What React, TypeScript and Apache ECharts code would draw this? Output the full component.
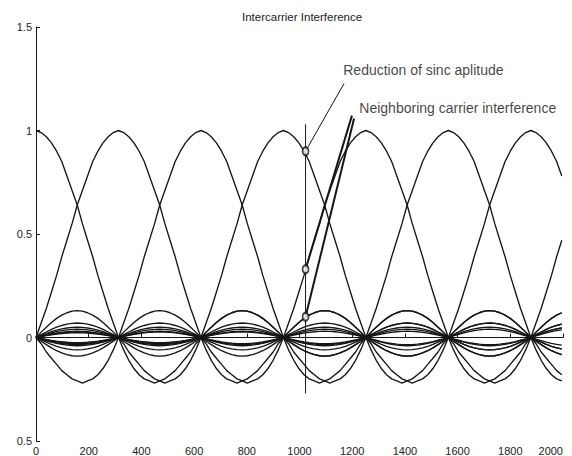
import React, { useEffect, useRef } from "react";
import * as echarts from "echarts";

// Subcarrier spacing (samples) and the centres of the carriers
const carrierSpacing = 313;
const stepsPerSpacing = 16;
const carrierCenters = [
  0, 313, 626, 939, 1252, 1565, 1878, 2191, 2504, 2817, 3130, 3443, 3756, 4069, 4382, 4695,
];

// Sinc pulse, sampled every 1/16 of the carrier spacing
const mainLobe = [1, 0.99, 0.97, 0.94, 0.9, 0.85, 0.78, 0.71, 0.64, 0.55, 0.47, 0.39, 0.3, 0.22, 0.14, 0.07, 0];
const firstSideLobe = [0, -0.06, -0.11, -0.15, -0.18, -0.2, -0.21, -0.22, -0.21, -0.2, -0.18, -0.16, -0.13, -0.1, -0.07, -0.03, 0];
const outerLobePeaks = [0.13, -0.09, 0.07, -0.06, 0.05, -0.04, 0.04, -0.035, 0.03, -0.03, 0.027, -0.025, 0.023, -0.022];
const lobeShape = [0, 0.2, 0.38, 0.56, 0.71, 0.83, 0.92, 0.98, 1, 0.98, 0.92, 0.83, 0.71, 0.56, 0.38, 0.2, 0];

// Axis ticks
const xTicks = [0, 200, 400, 600, 800, 1000, 1200, 1400, 1600, 1800, 2000];
const yTickLabels: Record<string, string> = { "-0.5": "0.5", "0": "0", "0.5": "0.5", "1": "1", "1.5": "1.5" };

// Sampling instant and the annotated points on it
const sampleX = 1023;
const sampleLine = [
  [sampleX, -0.27],
  [sampleX, 1.03],
];
const sampledPoints = [
  [sampleX, 0.9],
  [sampleX, 0.33],
  [sampleX, 0.1],
];
const reductionPointer = [
  [sampleX, 0.9],
  [1169, 1.227],
];
const neighborPointerA = [
  [sampleX, 0.33],
  [1199, 1.072],
];
const neighborPointerB = [
  [sampleX, 0.1],
  [1207, 1.058],
];
const annotationTexts = [
  { name: "Reduction of sinc aplitude", value: [1166, 1.29] },
  { name: "Neighboring carrier interference", value: [1227, 1.11] },
];

const FONT = "Liberation Sans, Arial, Helvetica, sans-serif";
const INK = "#161616";

function pulseAt(step: number): number {
  const a = Math.abs(step);
  const lobe = Math.floor(a / stepsPerSpacing);
  const r = a % stepsPerSpacing;
  if (lobe === 0) return mainLobe[r];
  if (lobe === 1) return firstSideLobe[r];
  const peak = outerLobePeaks[lobe - 2];
  return peak === undefined ? 0 : peak * lobeShape[r];
}

function carrierData(center: number): number[][] {
  const dx = carrierSpacing / stepsPerSpacing;
  const pts: number[][] = [];
  const jMin = Math.ceil((0 - center) / dx);
  const jMax = Math.floor((2000 - center) / dx);
  for (let j = jMin; j <= jMax; j++) {
    pts.push([center + j * dx, pulseAt(j)]);
  }
  return pts;
}

export default function App() {
  const ref = useRef<HTMLDivElement>(null);

  useEffect(() => {
    if (!ref.current) return;
    const chart = echarts.init(ref.current, undefined, { renderer: "svg" });

    const carrierSeries = carrierCenters.map((c, i) => ({
      name: `carrier ${i}`,
      type: "line" as const,
      data: carrierData(c),
      symbol: "none",
      silent: true,
      lineStyle: { color: INK, width: 1.35 },
      z: 2,
    }));

    const lineSeries = (data: number[][], width: number) => ({
      type: "line" as const,
      data,
      symbol: "none",
      silent: true,
      lineStyle: { color: INK, width },
      z: 3,
    });

    chart.setOption({
      animation: false,
      title: {
        text: "Intercarrier Interference",
        left: 237,
        top: 6,
        textStyle: { fontFamily: FONT, fontSize: 11.5, fontWeight: "normal", color: "#222" },
      },
      grid: { left: 36, right: 9, top: 27, bottom: 15, containLabel: false, outerBoundsMode: "none" },
      xAxis: {
        type: "value",
        min: 0,
        max: 2000,
        interval: 200,
        axisLine: { show: true, lineStyle: { color: INK, width: 1 } },
        axisTick: { show: true, inside: true, length: 4, lineStyle: { color: INK } },
        axisLabel: {
          fontFamily: FONT,
          fontSize: 11,
          color: "#222",
          margin: 4,
          showMinLabel: true,
          showMaxLabel: true,
          hideOverlap: false,
          alignMaxLabel: "right",
          formatter: (v: number) => (xTicks.includes(v) ? String(v) : ""),
        },
        splitLine: { show: false },
      },
      yAxis: {
        type: "value",
        min: -0.5,
        max: 1.5,
        interval: 0.5,
        axisLine: { show: true, lineStyle: { color: INK, width: 1 } },
        axisTick: { show: true, inside: true, length: 4, lineStyle: { color: INK } },
        axisLabel: {
          fontFamily: FONT,
          fontSize: 11,
          color: "#222",
          margin: 4,
          formatter: (v: number) => yTickLabels[String(v)] ?? String(v),
        },
        splitLine: { show: false },
      },
      series: [
        ...carrierSeries,
        lineSeries(sampleLine, 1),
        lineSeries(reductionPointer, 1),
        lineSeries(neighborPointerA, 2),
        lineSeries(neighborPointerB, 2),
        {
          type: "scatter",
          data: sampledPoints,
          symbol: "emptyCircle",
          symbolSize: [6, 8],
          itemStyle: { color: INK, borderColor: INK, borderWidth: 1.2 },
          silent: true,
          z: 4,
        },
        {
          type: "scatter",
          data: annotationTexts,
          symbolSize: 0,
          silent: true,
          label: {
            show: true,
            position: "right",
            distance: 0,
            formatter: (p: any) => p.name,
            fontFamily: FONT,
            fontSize: 14,
            color: "#111",
          },
          z: 5,
        },
      ],
    });

    return () => chart.dispose();
  }, []);

  return (
    <div
      ref={ref}
      style={{ position: "absolute", left: 0, top: 0, width: 572, height: 456, background: "#fff" }}
    />
  );
}
